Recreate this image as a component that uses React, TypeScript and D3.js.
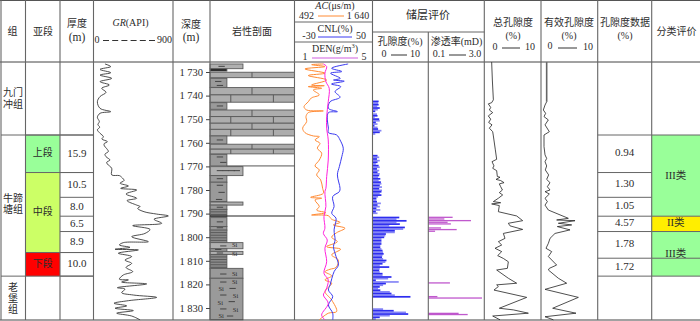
import React, { useRef, useEffect } from "react";
import * as d3 from "d3";

// depth, value pairs
const grCurve = [[1726.6,130],[1727.7,195],[1728.9,74],[1730.3,195],[1731.3,74],[1732.7,206],[1734.1,74],[1735.5,180],[1736.9,93],[1738.6,142],[1740.4,74],[1742.6,44],[1745.4,74],[1746.8,195],[1747.5,74],[1749.2,44],[1751,66],[1752.3,50],[1753.4,70],[1754.5,44],[1756,75],[1757.4,112],[1758.4,95],[1759.5,157],[1760.4,120],[1761.3,123],[1762.5,150],[1763.7,168],[1764.8,130],[1765.9,142],[1767.3,187],[1768.2,150],[1769,157],[1770.8,206],[1773.6,206],[1773.9,293],[1774.6,319],[1776,346],[1777.1,300],[1778.3,395],[1779.3,308],[1780,489],[1781.7,368],[1783.5,489],[1784.5,380],[1786.4,489],[1787,527],[1787.8,500],[1789.2,572],[1790.2,715],[1791,847],[1792.4,685],[1794.1,772],[1795.1,444],[1796.7,640],[1798.4,583],[1799.8,432],[1801.9,621],[1802.3,338],[1803.3,293],[1804.3,413],[1805.1,244],[1805.4,508],[1806.8,281],[1808.2,432],[1809.7,357],[1811.1,432],[1812.8,368],[1814.6,444],[1816,338],[1817.8,293],[1818.1,395],[1819,319],[1819.8,602],[1821.4,270],[1822,357],[1823.5,319],[1824.5,451],[1825.5,715],[1826.9,395],[1828,232],[1829.1,376],[1830.1,244],[1831.1,451],[1832.2,263],[1833.4,432],[1835,527]];

const acCurve = [[1726.6,916],[1726.9,745],[1727.7,941],[1728.7,646],[1730.5,941],[1731.5,695],[1733.4,965],[1735.5,744],[1735.8,930],[1736.2,695],[1736.9,892],[1737.6,769],[1739.7,857],[1741,740],[1742.6,695],[1744.7,632],[1746.1,671],[1746.5,916],[1747.2,695],[1748.9,661],[1751,671],[1753.8,612],[1755.7,646],[1757.1,769],[1757.4,857],[1758.8,794],[1760.2,867],[1762.3,828],[1764.4,892],[1767.3,857],[1769.8,794],[1771.5,857],[1773.6,818],[1775.7,877],[1779.3,906],[1781.4,916],[1783.1,730],[1783.5,892],[1784.2,794],[1787,857],[1788.5,818],[1789.6,955],[1790.6,744],[1790.9,990],[1792.4,1039],[1793.7,1162],[1794.8,1063],[1796.2,1235],[1798.1,1112],[1800,1039],[1801.9,1122],[1804,965],[1805.1,1171],[1807.5,1039],[1809.7,1137],[1812.8,1103],[1813.6,1014],[1814.6,941],[1816.4,1039],[1818.1,941],[1819.5,1039],[1823,941],[1826.6,1039],[1831.5,1112],[1832.2,990],[1835,857]];

const cnlCurve = [[1726.6,25],[1728.4,8],[1729.8,18.5],[1730.5,7],[1732.7,17],[1733.4,10],[1733.9,21],[1735.1,8],[1736.2,17.4],[1738.3,11.6],[1740.7,16.7],[1742.6,6.5],[1745.4,4.8],[1746.8,14],[1747.2,4.8],[1750.3,3.7],[1753.8,4.8],[1755.7,4.8],[1756.7,13.3],[1758.8,16.7],[1762.3,20],[1765.9,18.5],[1770.1,16],[1773.6,14],[1779.3,16.7],[1780.7,16],[1782.8,9.2],[1787,10.6],[1789.9,8.2],[1792,12.6],[1796.9,10.6],[1801.2,11.6],[1804,10],[1808.2,12.6],[1811.8,15],[1814.6,10.6],[1820.2,6.5],[1822.4,4.8],[1825.2,9.2],[1828.7,4.8],[1832.2,9.2],[1835,9.2]];

const denCurve = [[1726.6,2.48],[1727.7,2.65],[1730.5,2.56],[1734.1,2.61],[1736.9,2.78],[1742.6,2.73],[1748.9,2.65],[1753.8,2.65],[1758.8,2.73],[1767.3,2.73],[1774.3,2.65],[1779.3,2.61],[1780.7,2.56],[1787,2.61],[1791.3,2.51],[1796.2,2.56],[1798.4,2.48],[1801.2,2.68],[1804.7,2.56],[1810.4,2.65],[1815.3,2.51],[1818.1,2.73],[1822.4,2.61],[1824.5,2.48],[1828,2.73],[1833,2.39],[1835,2.56]];

const totalPoro = [[1725.8,1.3],[1733.4,1.42],[1741.8,1.6],[1743,1.3],[1743.5,.71],[1745,1.13],[1746.1,.89],[1747.2,1.48],[1748.6,.71],[1750,1.13],[1751.4,.77],[1752.4,1.36],[1753.8,.89],[1755.3,1.48],[1757.1,1.6],[1763,1.95],[1767,2.18],[1768,1.36],[1769.8,1.71],[1770.8,1.48],[1771.8,2.18],[1774.3,2.3],[1774.6,2.77],[1775.5,2.07],[1776,2.89],[1776.9,3.48],[1777.4,2.65],[1778.6,2.89],[1780,3.2],[1781.1,2.65],[1782.1,3.24],[1783.5,2.48],[1784.9,1.6],[1785.4,2.89],[1785.9,1.3],[1786.6,2.65],[1789.2,2.48],[1791,5.71],[1793,6.77],[1794.1,4.24],[1795.2,4.54],[1796.7,6.77],[1798.4,3.36],[1800.5,3.65],[1801.9,2.48],[1803.3,3.07],[1804.7,1.89],[1806.1,3.07],[1807.8,2.36],[1809,3.36],[1810.4,4.24],[1813.2,4.07],[1813.9,2.18],[1817.4,4.24],[1819.5,5.71],[1820.2,2.18],[1820.9,2.48],[1822.4,1.71],[1825.5,7.48],[1830.1,2.65],[1830.8,5.12],[1832.2,7.77],[1833.4,1.48],[1835,2.77]];

const effPoroTop = [[1725.8,1.0],[1742.6,1.0]];
const effPoro = [[1742.6,1.0],[1744,.71],[1746.1,.41],[1747.5,.82],[1748.9,.53],[1750.3,1.29],[1752.4,.71],[1755.3,1.47],[1756.7,.53],[1761.6,.53],[1765.1,.71],[1766.6,1.0],[1768,.71],[1769.8,1.0],[1771.5,.76],[1773.6,1.35],[1775.5,1.0],[1776.9,1.59],[1778.6,1.12],[1780,1.59],[1780.7,.71],[1781.7,1.47],[1783.5,.71],[1784.9,1.12],[1786.4,.71],[1788.5,1.3],[1792,4.82],[1792.7,2.76],[1793,6],[1794.1,3.06],[1794.8,5.41],[1795.5,2.88],[1796.9,5.12],[1798.4,2.47],[1800.5,1.59],[1802.6,1.3],[1804.7,.88],[1806.1,1.88],[1808.2,1.3],[1811.8,2.76],[1813.2,1.47],[1813.9,1.3],[1817.4,3.06],[1819.5,4.53],[1822.1,.71],[1825.5,6.59],[1830.1,2.06],[1832.2,6.17],[1833.7,.71],[1835,2.18]];

// porosity bars, one run per interval, a sample every 0.7 m
const poroStep = 0.7;
const poroRuns = [
  { start: 1742.1, values: [1.1,1.0,1.1,.85,1.3,.95,.5] },
  { start: 1747.5, values: [.8,.9,.4,1.2,1.3,.6,.9,.35,.9,1.0,1.6,1.3,.5] },
  { start: 1765.1, values: [.9,1.2,.8,1.3,.9,.6,1.1,1.3,.8,1.2,.9,1.3,1.2,1.0,1.4,1.1,1.5,1.6,1.3,1.7,1.2,1.7] },
  { start: 1780.4, values: [1.6,1.3,1.6,1.0,.7,.7,.8,1.5,.9,1.3,.7,1.4,.6,.9] },
  { start: 1791.3, values: [4.8,4.3,6.1,4.3,4.9,3,5.8,5.5,4,4,2.4,2.3,2.1,1.6,1.6,1.6,1.6,1.4,1.4,1.6,1.8,1.9,2,1.8,1.7,1.9,2.5,2.3,1.8,1.3,3,1.3,1.2,1.3,1.8,1.8,3.4,2.8,.6,4.7,2.4,1.9,1.3,1,1.4,3.1,3.4,4,6.8] },
  { start: 1830.1, values: [1.9,3.8,6,6.4,3.1,1.3,.6] },
];

const permBars = [[1791.3,1.36],[1792,.93],[1792.7,2.31],[1793.4,1.1],[1794.1,1.27],[1795.8,.76],[1796.5,1.57],[1797.2,.45],[1819.1,1.22],[1824.9,.57],[1825.5,2.88],[1832,1.67],[1832.5,2.14]];

// top, bottom, width share of the column, kind
const lithology: [number, number, number, string][] = [
  [1726.6,1728.6,.39,"light"],[1728.7,1729.6,.2,"black"],[1730.1,1732.4,1,"brickA"],[1732.7,1736.5,.2,"mud"],
  [1736.6,1739.7,1,"brickA"],[1739.7,1742.8,1,"brickB"],[1743,1745.8,.2,"mud"],[1746.1,1748.9,1,"brickA"],
  [1748.9,1751.7,1,"brickB"],[1751.7,1754.3,1,"brickA"],[1754.3,1757.1,1,"brickB"],[1757.1,1760.5,.2,"mud"],
  [1760.6,1762.7,1,"brickA"],[1762.7,1764.7,1,"brickB"],[1764.9,1769.8,.2,"mud"],[1770.1,1773.9,.39,"light"],
  [1773.9,1776.7,.2,"mud"],[1776.7,1784.9,.2,"mud"],[1785.1,1786.4,.39,"light"],[1786.4,1788.2,.2,"mud"],
  [1788.2,1791.3,.2,"dense"],[1791.7,1795.5,.2,"mud"],[1795.5,1797,.2,"mud"],[1797,1802.3,.2,"dense"],
  [1802.3,1804.9,.39,"light"],[1804.9,1806,.2,"mud"],[1806,1807.3,.39,"light"],[1807.3,1813.2,.2,"dense"],
  [1813.2,1817.4,.39,"mud"],[1817.4,1835,.39,"mud"],
];

// depth, share of the column
const lithDashes = [[1727.6,.1],[1734,.06],[1735.7,.08],[1744.4,.08],[1758.8,.08],[1766,.08],[1768.3,.12],[1771.8,.08],[1771.8,.15],[1771.8,.22],[1771.8,.28],[1775.2,.08],[1778,.08],[1781,.1],[1784,.07],[1787.3,.08],[1793.5,.08],[1796,.08],[1803.7,.12],[1805.2,.06],[1806.7,.08],[1815.6,.12],[1819,.12],[1821.7,.23],[1824.5,.12],[1827.3,.22],[1830.4,.12],[1833.4,.2]];
const lithSi = [[1803.4,.26],[1807,.26],[1815.6,.26],[1819.1,.26],[1821.9,.1],[1824.9,.27],[1827.8,.09],[1830.7,.27],[1833.6,.1]];

const depthTicks = [1730,1740,1750,1760,1770,1780,1790,1800,1810,1820,1830];
const formBreaks = [1756.7, 1816.5];
const memberNames = ["上段","中段","下段"];
const memberColors = ["#99ff99","#ccff66","#ff0000"];
const memberBreaks = [1756.7,1772.6,1806.5,1816.5];
const thickness = [15.9,10.5,8.0,6.5,8.9,10.0];
const poroData = ["0.94","1.30","1.05","4.57","1.78","1.72"];
const poroBreaks = [1756.7,1772.6,1783.1,1791.1,1797.6,1808.9,1816.5];
const classNames = ["III类","II类","III类"];
const classColors = ["#99ff99","#ffee00","#99ff99"];
const classBreaks = [1756.7,1791.1,1797.6,1816.5];

const cols = [1, 25.5, 60, 93.5, 173, 210, 294.5, 372.5, 428.3, 484.3, 541, 597.7, 651.7, 700];
const headBottom = 62;
const chartBottom = 320;
const fontStack = "'Liberation Serif','Noto Sans CJK SC',serif";
const ink = "#2c2c2c";
const rule = "#666";

export default function App() {
  const ref = useRef<SVGSVGElement>(null);

  useEffect(() => {
    const svg = d3.select(ref.current);
    svg.selectAll("*").remove();

    const y = d3.scaleLinear().domain([1730, 1830]).range([72, 308]);

    const label = (x: number, yy: number, s: string, size = 10, anchor = "middle") =>
      svg.append("text").attr("x", x).attr("y", yy).attr("text-anchor", anchor)
        .attr("dominant-baseline", "middle").attr("font-size", size)
        .attr("font-family", fontStack).attr("fill", ink).text(s);

    const hline = (x0: number, x1: number, yy: number, color = rule, w = 1) =>
      svg.append("line").attr("x1", x0).attr("x2", x1).attr("y1", yy).attr("y2", yy)
        .attr("stroke", color).attr("stroke-width", w);

    const vline = (x: number, y0: number, y1: number, color = rule, w = 1) =>
      svg.append("line").attr("x1", x).attr("x2", x).attr("y1", y0).attr("y2", y1)
        .attr("stroke", color).attr("stroke-width", w);

    // coloured blocks first so the rules sit on top
    memberNames.forEach((m, i) => {
      svg.append("rect").attr("x", cols[1]).attr("width", cols[2] - cols[1])
        .attr("y", y(memberBreaks[i])).attr("height", y(memberBreaks[i + 1]) - y(memberBreaks[i]))
        .attr("fill", memberColors[i]);
      label((cols[1] + cols[2]) / 2, (y(memberBreaks[i]) + y(memberBreaks[i + 1])) / 2, m);
    });
    classNames.forEach((c, i) => {
      svg.append("rect").attr("x", cols[12]).attr("width", cols[13] - cols[12])
        .attr("y", y(classBreaks[i])).attr("height", y(classBreaks[i + 1]) - y(classBreaks[i]))
        .attr("fill", classColors[i]);
      label((cols[12] + cols[13]) / 2, (y(classBreaks[i]) + y(classBreaks[i + 1])) / 2 + (i == 1 ? 0 : 1), c, 10.5);
    });

    // lithology column
    const lithX = d3.scaleLinear().domain([0, 1]).range([cols[5], cols[6]]);
    const lith = svg.append("g");
    lithology.forEach(([top, bottom, w, kind]) => {
      const y0 = y(top), y1 = y(bottom);
      const fill = kind == "black" ? "#111" : kind == "light" ? "#b0b0b0" : kind == "mud" ? "#9a9a9a" : kind == "dense" ? "#8a8a8a" : "#adadad";
      lith.append("rect").attr("x", lithX(0)).attr("y", y0).attr("width", lithX(w) - lithX(0)).attr("height", y1 - y0)
        .attr("fill", fill).attr("stroke", "#5a5a5a").attr("stroke-width", 0.9);
      if (kind == "brickA") {
        lith.append("line").attr("x1", lithX(.497)).attr("x2", lithX(.497)).attr("y1", y0).attr("y2", y1).attr("stroke", "#5a5a5a");
      }
      if (kind == "brickB") {
        [.246, .75].forEach(f => lith.append("line").attr("x1", lithX(f)).attr("x2", lithX(f)).attr("y1", y0).attr("y2", y1).attr("stroke", "#5a5a5a"));
      }
      if (kind == "dense") {
        d3.range(y0 + 2.5, y1, 2.6).forEach(v => hline(lithX(0), lithX(w), v, "#555", 0.9));
      }
    });
    lithDashes.forEach(([d, f]) => hline(lithX(f), lithX(f + .075), y(d), "#444", 1));
    lithSi.forEach(([d, f]) => label(lithX(f), y(d) + 0.5, "Si", 6.5, "start"));

    // porosity and permeability bars
    const poroX = d3.scaleLinear().domain([0, 10]).range([cols[7], cols[8]]);
    const bars = poroRuns.flatMap(r => r.values.map((v, i) => [r.start + i * poroStep, v]));
    svg.append("g").selectAll("rect").data(bars).enter().append("rect")
      .attr("x", poroX(0)).attr("y", d => y(d[0]))
      .attr("width", d => poroX(d[1]) - poroX(0)).attr("height", 1.7)
      .attr("fill", "#2222ee").attr("fill-opacity", (d, i) => (i % 2 ? 0.55 : 0.95));

    const permX = d3.scaleLinear().domain([0.1, 3]).range([cols[8], cols[9]]);
    svg.append("g").selectAll("rect").data(permBars).enter().append("rect")
      .attr("x", permX(0.1)).attr("y", d => y(d[0]))
      .attr("width", d => permX(d[1]) - permX(0.1)).attr("height", 1.3)
      .attr("fill", "#b030c0").attr("fill-opacity", 0.8);

    // grid
    hline(0, 700, 0.5, "#555");
    hline(0, 700, headBottom, "#444");
    hline(0, 700, chartBottom, "#444", 1.2);
    cols.slice(0, 13).forEach((c, i) => { if (i != 8) vline(c, 0, chartBottom, rule, 1.1); });
    vline(cols[8], 32, chartBottom, rule, 1.1);
    hline(cols[7], cols[9], 32);
    hline(cols[6], cols[7], 22);
    hline(cols[6], cols[7], 42);

    formBreaks.forEach(b => hline(cols[0], cols[3], y(b)));
    d3.pairs(memberBreaks).forEach(([a]) => hline(cols[1], cols[3], y(a)));
    let acc = 1756.7;
    thickness.forEach((t) => {
      const next = acc + t;
      hline(cols[2], cols[3], y(next));
      label((cols[2] + cols[3]) / 2, (y(acc) + y(next)) / 2 + 0.5, t.toFixed(1), 11);
      acc = next;
    });
    poroBreaks.forEach(b => hline(cols[11], cols[13] - (b < 1791 && b > 1757 ? 48.3 : 0), y(b)));
    d3.pairs(poroBreaks).forEach(([a, b], i) => label((cols[11] + cols[12]) / 2, (y(a) + y(b)) / 2, poroData[i], 11));
    hline(lithX(.2), cols[6], y(1769.8), "#555", 1);
    hline(cols[5], cols[6], y(1791), "#222", 1.1);

    // curves
    const track = (col: number, dom: number[]) => d3.scaleLinear().domain(dom).range([cols[col], cols[col + 1]]);
    const draw = (data: number[][], x: d3.ScaleLinear<number, number>, color: string, w: number, curve: d3.CurveFactory) => {
      const line = d3.line<number[]>().x(d => x(d[1])).y(d => y(d[0])).curve(curve);
      svg.append("path").attr("d", line(data)).attr("fill", "none").attr("stroke", color).attr("stroke-width", w);
    };
    draw(grCurve, track(3, [0, 900]), "#222", 0.8, d3.curveCatmullRom);
    draw(acCurve, track(6, [492, 1640]), "#ff8a33", 1, d3.curveCatmullRom);
    draw(cnlCurve, track(6, [-30, 50]), "#3a3af0", 1, d3.curveCatmullRom);
    draw(denCurve, track(6, [1, 5]), "#ff22dd", 1, d3.curveCatmullRom);
    draw(totalPoro, track(9, [0, 10]), "#222", 0.8, d3.curveLinear);
    draw(effPoroTop, track(10, [0, 10]), "#666", 1.6, d3.curveLinear);
    draw(effPoro, track(10, [0, 10]), "#222", 0.8, d3.curveLinear);

    // depth axis
    const axis = svg.append("g").attr("transform", `translate(${cols[5]},0)`)
      .call(d3.axisLeft(y).tickValues(depthTicks).tickSize(4).tickPadding(3)
        .tickFormat(d => { const s = String(d); return s[0] + " " + s.slice(1); }));
    axis.select(".domain").remove();
    axis.selectAll("line").attr("stroke", "#444");
    axis.selectAll("text").attr("font-size", 10.5).attr("font-family", fontStack).attr("fill", ink);

    // group names
    label(12.5, 33, "组");
    label(13, 93.5, "九门"); label(13, 105.5, "冲组");
    label(13, 200, "牛蹄"); label(13, 211, "塘组");
    ["老", "堡", "组"].forEach((c, i) => label(13, 288.5 + i * 11, c));

    // header
    label(43, 33, "亚段");
    label(77, 25, "厚度"); label(77, 38.5, "(m)", 11.5);
    const gr = label(130.5, 24, "");
    gr.append("tspan").attr("font-style", "italic").text("GR");
    gr.append("tspan").text("(API)");
    label(97, 40.5, "0");
    svg.append("line").attr("x1", 103).attr("x2", 156).attr("y1", 40.5).attr("y2", 40.5)
      .attr("stroke", "#333").attr("stroke-dasharray", "6 3.2");
    label(164.5, 40.5, "900");
    label(191, 25.5, "深度"); label(191, 38.5, "(m)", 11.5);
    label(252, 33, "岩性剖面");

    const ac = label(335, 7, "");
    ac.append("tspan").attr("font-style", "italic").text("AC");
    ac.append("tspan").text("(μs/m)");
    label(306.5, 17, "492");
    hline(318, 344, 16, "#ff8a33", 1);
    label(358, 17, "1 640");
    label(335, 30, "CNL(%)");
    hline(318, 352, 37, "#3a3af0", 1);
    label(309, 36.5, "-30");
    label(361, 36.5, "50");
    const den = label(335, 50, "DEN(g/m", 10);
    den.append("tspan").attr("font-size", 6.5).attr("dy", -3).text("3");
    den.append("tspan").attr("dy", 3).text(")");
    hline(312, 358, 58, "#d060e0", 1.2);
    label(305, 58, "1");
    label(364, 58, "5");

    label(428, 16.5, "储层评价", 11);
    label(400, 42.5, "孔隙度(%)");
    label(384, 55, "0"); hline(391, 407, 55, "#333"); label(415, 55, "10");
    label(456.5, 42.5, "渗透率(mD)");
    label(439, 55, "0.1"); hline(449, 466, 55, "#333"); label(475, 55, "3.0");

    label(513, 24, "总孔隙度"); label(513, 37, "(%)");
    label(495, 48, "0"); hline(502, 520, 48, "#333"); label(530, 48, "10");
    label(569, 24, "有效孔隙度"); label(569, 37, "(%)");
    label(550, 47, "0"); hline(558, 577, 48, "#333"); label(588, 48, "10");
    label(625, 24, "孔隙度数据"); label(625, 36.5, "(%)");
    label(676.5, 33, "分类评价");
  }, []);

  return (
    <svg ref={ref} width={700} height={321}
      style={{ position: "absolute", left: 0, top: 0, background: "#fff" }} />
  );
}
